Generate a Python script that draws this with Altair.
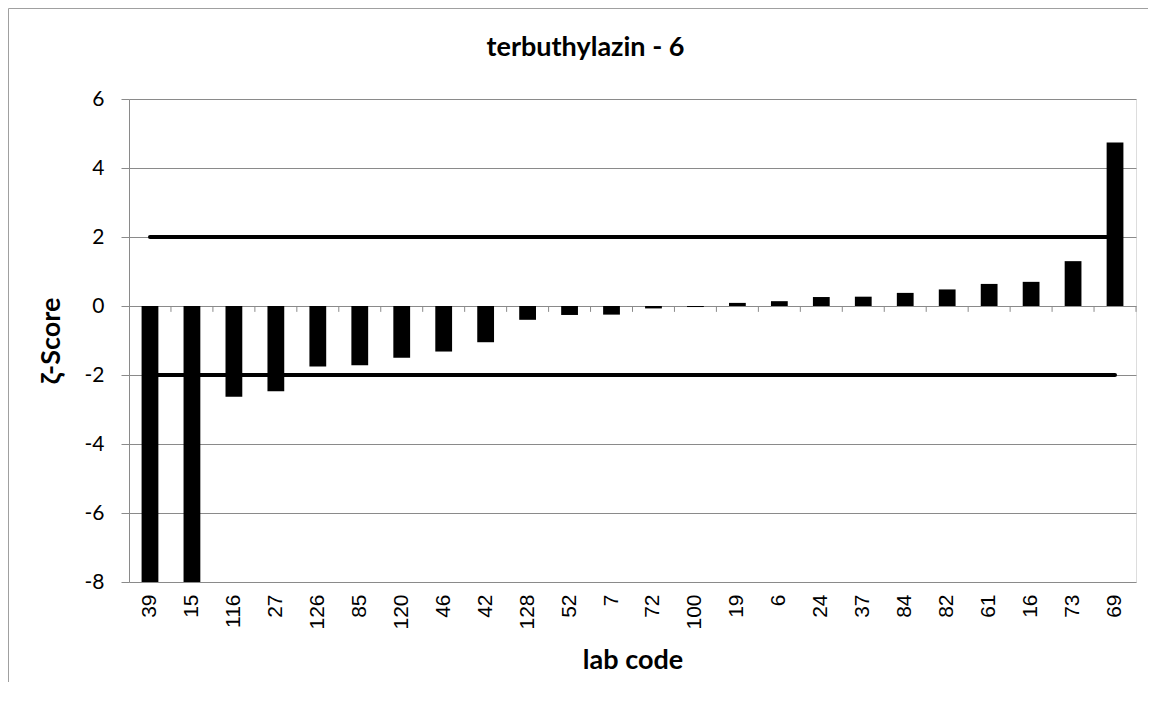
import altair as alt
import pandas as pd

# ---- data ----
labs = ["39", "15", "116", "27", "126", "85", "120", "46", "42", "128", "52", "7",
        "72", "100", "19", "6", "24", "37", "84", "82", "61", "16", "73", "69"]
scores = [-8.0, -8.0, -2.63, -2.47, -1.75, -1.72, -1.50, -1.32, -1.05, -0.40, -0.26, -0.25,
          -0.07, -0.03, 0.09, 0.14, 0.26, 0.27, 0.38, 0.48, 0.64, 0.70, 1.30, 4.74]
upper_limit = 2
lower_limit = -2
y_ticks = [-8, -6, -4, -2, 0, 2, 4, 6]

bars_df = pd.DataFrame({"lab": labs, "score": scores})
limits_df = pd.DataFrame(
    [{"lab": l, "limit": upper_limit, "series": "upper"} for l in labs]
    + [{"lab": l, "limit": lower_limit, "series": "lower"} for l in labs]
)
ticks_df = pd.DataFrame({"lab": labs, "y0": 0.0, "y1": -0.17})

GRAY = "#8a8a8a"
CAL = "Lato, 'Noto Sans', 'DejaVu Sans', sans-serif"
ARIAL = "'Liberation Sans', Arial, sans-serif"

xscale = alt.Scale(domain=labs, paddingInner=0, paddingOuter=0)
yscale = alt.Scale(domain=[-8, 6], nice=False)

x_axis = alt.Axis(
    title="lab code", labelAngle=-90, labelFont=ARIAL, labelFontSize=21,
    labelColor="black", labelPadding=12, domain=False, ticks=False, grid=False,
    titleFont=CAL, titleFontSize=27, titleFontWeight="bold", titleColor="black",
    titleY=86, titleBaseline="alphabetic",
)
y_axis = alt.Axis(
    title="ζ-Score", values=y_ticks, labelFont=CAL, labelFontSize=21,
    labelColor="black", labelPadding=17, domain=True, domainColor=GRAY,
    labelExpr="datum.value < 0 ? '-' + abs(datum.value) : '' + datum.value",
    ticks=True, tickColor=GRAY, tickSize=8, grid=True, gridColor=GRAY,
    gridWidth=1, titleFont=CAL, titleFontSize=27, titleFontWeight="bold",
    titleColor="black", titleX=-70, titleY=241.5, titleBaseline="alphabetic",
    titleAlign="center", titleAngle=270,
)

lines = alt.Chart(limits_df).mark_line(color="black", strokeWidth=4, strokeCap="round").encode(
    x=alt.X("lab:N", sort=labs, scale=xscale, bandPosition=0.5, axis=x_axis),
    y=alt.Y("limit:Q", scale=yscale, axis=y_axis),
    detail="series:N",
)

bars = alt.Chart(bars_df).mark_bar(color="black", width=alt.RelativeBandSize(0.4)).encode(
    x=alt.X("lab:N", sort=labs, scale=xscale),
    y=alt.Y("score:Q", scale=yscale),
)

ticks = alt.Chart(ticks_df).mark_rule(color=GRAY, strokeWidth=1).encode(
    x=alt.X("lab:N", sort=labs, scale=xscale, bandPosition=1),
    y=alt.Y("y0:Q", scale=yscale),
    y2="y1:Q",
)

frame_left = alt.Chart(bars_df.head(1)).mark_rule(color="#a0a0a0", strokeWidth=1).encode(
    x=alt.value(-120.5), y=alt.value(-90.5), y2=alt.value(600)
)
frame_top = alt.Chart(bars_df.head(1)).mark_rule(color="#a0a0a0", strokeWidth=1).encode(
    x=alt.value(-120.5), x2=alt.value(1030), y=alt.value(-90.5)
)

chart = alt.layer(lines, bars, ticks, frame_left, frame_top).properties(
    width=1007,
    height=483,
    autosize=alt.AutoSizeParams(type="none"),
    padding={"left": 121, "top": 91, "right": 12, "bottom": 100},
    title=alt.TitleParams(
        "terbuthylazin - 6", font=CAL, fontSize=27, fontWeight="bold",
        color="black", anchor="middle", dx=-47, offset=0, dy=74.5,
        baseline="alphabetic",
    ),
).configure_view(stroke=None).configure(background="white")

chart.save("out.html", embed_options={"renderer": "svg", "actions": False})
